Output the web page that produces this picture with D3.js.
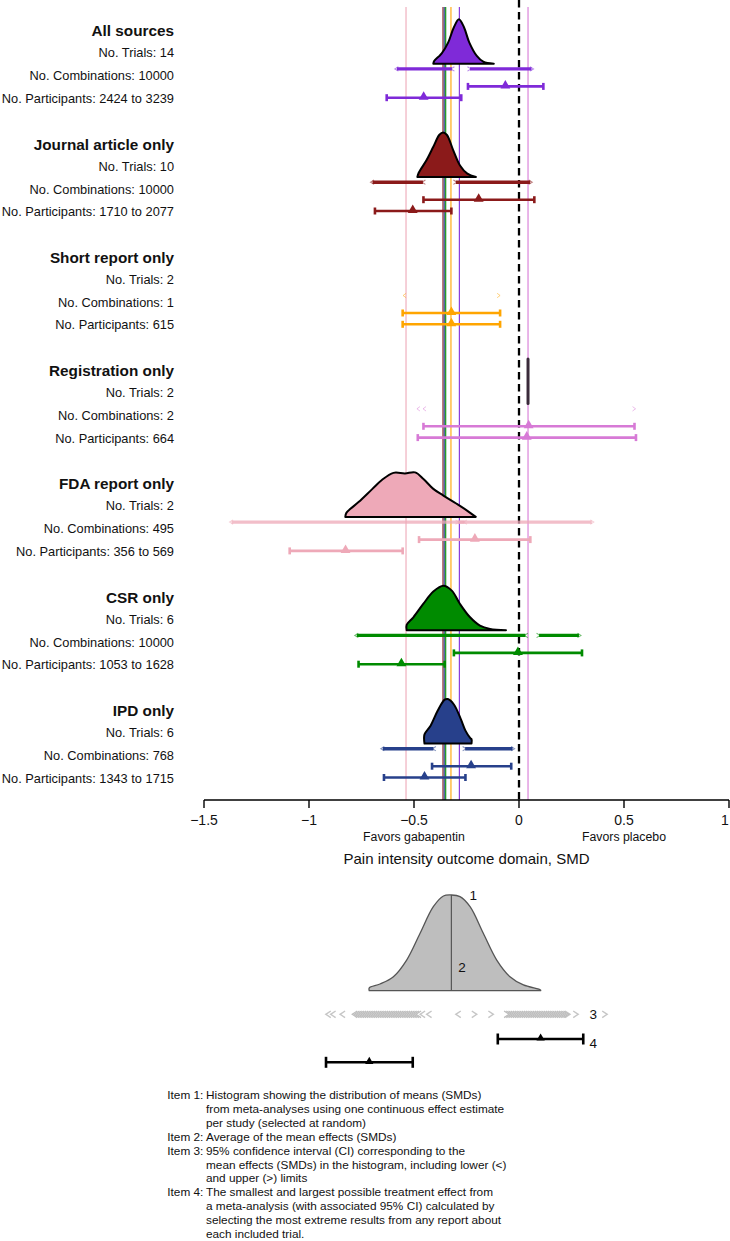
<!DOCTYPE html>
<html>
<head>
<meta charset="utf-8">
<script src="https://cdn.jsdelivr.net/npm/d3@7"></script>
<style>
  html, body { margin: 0; padding: 0; background: #ffffff; }
  svg { display: block; }
  text { font-family: "Liberation Sans", Arial, Helvetica, sans-serif; fill: #111; }
</style>
</head>
<body>
<svg id="chart" width="730" height="1241"></svg>
<script>
// ---------------- DATA ----------------
const groups = ["All sources", "Journal article only", "Short report only", "Registration only",
                "FDA report only", "CSR only", "IPD only"];
const trials = ["14", "10", "2", "2", "2", "6", "6"];
const combinations = ["10000", "10000", "1", "2", "495", "10000", "768"];
const participants = ["2424 to 3239", "1710 to 2077", "615", "664", "356 to 569", "1053 to 1628", "1343 to 1715"];
const colors = ["#7F2AD8", "#8B1A1A", "#FFA500", "#D77AD6", "#EEA9B8", "#008B00", "#27408B"];
// average of the mean effects (vertical reference lines)
const meanLines = [-0.284, -0.362, -0.324, 0.043, -0.538, -0.349, -0.356];
// density of pooled SMDs: [SMD, relative height]
const densities = [
  [[-0.408,0],[-0.404,0.06],[-0.385,0.15],[-0.368,0.23],[-0.337,0.48],[-0.31,0.82],[-0.286,1],[-0.262,0.82],[-0.237,0.48],[-0.201,0.175],[-0.17,0.045],[-0.12,0]],
  [[-0.484,0],[-0.478,0.09],[-0.44,0.38],[-0.408,0.68],[-0.379,0.95],[-0.362,1],[-0.344,0.95],[-0.313,0.6],[-0.281,0.26],[-0.246,0.077],[-0.205,0]],
  null,
  [[0.043,0],[0.043,1]],
  [[-0.827,0],[-0.822,0.09],[-0.764,0.333],[-0.698,0.63],[-0.653,0.83],[-0.598,0.99],[-0.543,0.978],[-0.495,1],[-0.455,0.853],[-0.408,0.63],[-0.36,0.48],[-0.297,0.296],[-0.249,0.148],[-0.206,0]],
  [[-0.535,0],[-0.535,0.12],[-0.503,0.29],[-0.456,0.59],[-0.408,0.87],[-0.36,1],[-0.32,0.89],[-0.281,0.59],[-0.233,0.29],[-0.186,0.104],[-0.138,0.03],[-0.062,0]],
  [[-0.45,0],[-0.45,0.204],[-0.421,0.4],[-0.388,0.73],[-0.354,0.985],[-0.339,1],[-0.31,0.876],[-0.277,0.547],[-0.255,0.29],[-0.232,0.12],[-0.226,0.095],[-0.226,0]]
];
// range of lower (<) and upper (>) 95% CI limits
const ciLower = [[-0.591,-0.31],[-0.707,-0.448],[-0.552,-0.552],[-0.486,-0.457],[-1.378,-0.25],[-0.782,0.04],[-0.658,-0.398]];
const ciUpper = [[-0.243,0.069],[-0.31,0.063],[-0.09,-0.09],[0.555,0.555],[-0.3,0.356],[0.086,0.295],[-0.266,-0.021]];
// extreme meta-analyses: [lower CI, estimate, upper CI]
const extremeHigh = [[-0.243,-0.065,0.116],[-0.455,-0.192,0.073],[-0.554,-0.322,-0.09],[-0.455,0.046,0.55],[-0.476,-0.21,0.054],[-0.31,-0.005,0.3],[-0.414,-0.228,-0.037]];
const extremeLow  = [[-0.63,-0.454,-0.275],[-0.686,-0.506,-0.322],[-0.554,-0.322,-0.09],[-0.482,0.037,0.557],[-1.092,-0.826,-0.554],[-0.764,-0.56,-0.354],[-0.643,-0.45,-0.255]];

const tickValues = [-1.5, -1, -0.5, 0, 0.5, 1];
const tickLabels = ["\u22121.5", "\u22121", "\u22120.5", "0", "0.5", "1"];
const favorLabels = [["Favors gabapentin", -0.5], ["Favors placebo", 0.5]];
const axisTitle = "Pain intensity outcome domain, SMD";

// legend (key) example values
const legendDensity = [[-0.713,0],[-0.713,0.03],[-0.662,0.07],[-0.598,0.146],[-0.535,0.32],[-0.471,0.6],[-0.408,0.878],[-0.36,0.99],[-0.322,1],[-0.281,0.983],[-0.233,0.878],[-0.17,0.6],[-0.106,0.32],[-0.043,0.146],[0.021,0.06],[0.103,0.007],[0.103,0]];
const legendMean = -0.322;
const legendLowerGlyphs = [-0.92, -0.897, -0.852, -0.471, -0.44, -0.301];
const legendUpperGlyphs = [-0.201, -0.122, 0.243, 0.282, 0.42];
const legendLowerCluster = [-0.794, -0.49];
const legendUpperCluster = [-0.071, 0.219];
const legendBars = [[-0.101, 0.103, 0.306], [-0.919, -0.713, -0.506]];
const legendNumbers = ["1", "2", "3", "4"];
const legendItems = [
  ["Item 1:", "Histogram showing the distribution of means (SMDs)"],
  ["", "from meta-analyses using one continuous effect estimate"],
  ["", "per study (selected at random)"],
  ["Item 2:", "Average of the mean effects (SMDs)"],
  ["Item 3:", "95% confidence interval (CI) corresponding to the"],
  ["", "mean effects (SMDs) in the histogram, including lower (<)"],
  ["", "and upper (>) limits"],
  ["Item 4:", "The smallest and largest possible treatment effect from"],
  ["", "a meta-analysis (with associated 95% CI) calculated by"],
  ["", "selecting the most extreme results from any report about"],
  ["", "each included trial."]
];

// ---------------- LAYOUT ----------------
const svg = d3.select("#chart");
svg.append("rect").attr("width", 730).attr("height", 1241).attr("fill", "#fff");

const x = d3.scaleLinear().domain([-1.5, 1]).range([204, 729]);
const groupY = d3.scaleLinear().domain([0, 1]).range([30.7, 144.0]);   // group title position
const labelX = 174;
const plotTop = 7, axisY = 800;
const densH = 44.5;

// vertical reference lines (averages)
const refG = svg.append("g");
meanLines.forEach((m, i) => {
  refG.append("line")
    .attr("x1", x(m)).attr("x2", x(m))
    .attr("y1", plotTop).attr("y2", axisY)
    .attr("stroke", colors[i]).attr("stroke-width", 1.1);
});
// null line
svg.append("line")
  .attr("x1", x(0)).attr("x2", x(0)).attr("y1", plotTop - 7).attr("y2", axisY)
  .attr("stroke", "#000").attr("stroke-width", 2.3).attr("stroke-dasharray", "7.5,4.5");

function chevron(g, px, y, dir, w, h, color, sw, op) {
  const d = dir === "<"
    ? `M${px + w},${y - h}L${px},${y}L${px + w},${y + h}`
    : `M${px - w},${y - h}L${px},${y}L${px - w},${y + h}`;
  g.append("path").attr("d", d).attr("fill", "none")
    .attr("stroke", color).attr("stroke-width", sw).attr("opacity", op);
}

function ciRange(g, range, y, dir, color, bandOp) {
  const xa = x(range[0]), xb = x(range[1]);
  if (xb - xa > 8) {
    g.append("line").attr("x1", xa + 2).attr("x2", xb - 2).attr("y1", y).attr("y2", y)
      .attr("stroke", color).attr("stroke-width", 3.4).attr("opacity", bandOp);
    chevron(g, dir === "<" ? xa : xb, y, dir, 3.5, 2.2, color, 1.1, 0.55);
    chevron(g, dir === "<" ? xb - 3 : xa + 3, y, dir, 3.5, 2.2, color, 1.1, 0.55);
  } else {
    chevron(g, xa, y, dir, 3, 2.2, color, 1, 0.5);
    if (xb - xa > 1) chevron(g, xb, y, dir, 3, 2.2, color, 1, 0.5);
  }
}

function errorBar(g, vals, y, color, sw, capH, triSize) {
  g.append("line").attr("x1", x(vals[0])).attr("x2", x(vals[2])).attr("y1", y).attr("y2", y)
    .attr("stroke", color).attr("stroke-width", sw);
  [vals[0], vals[2]].forEach(v => {
    g.append("line").attr("x1", x(v)).attr("x2", x(v)).attr("y1", y - capH / 2).attr("y2", y + capH / 2)
      .attr("stroke", color).attr("stroke-width", sw);
  });
  g.append("path").attr("d", d3.symbol().type(d3.symbolTriangle).size(triSize)())
    .attr("transform", `translate(${x(vals[1])},${y - 0.8})`).attr("fill", color);
}

groups.forEach((name, i) => {
  const t = groupY(i);
  const g = svg.append("g");
  // labels
  g.append("text").attr("x", labelX).attr("y", t).attr("text-anchor", "end")
    .attr("dominant-baseline", "central").attr("font-weight", "bold").attr("font-size", 15.3)
    .text(name);
  [["No. Trials: " + trials[i], 22], ["No. Combinations: " + combinations[i], 45], ["No. Participants: " + participants[i], 67.5]]
    .forEach(([s, dy]) => {
      g.append("text").attr("x", labelX).attr("y", t + dy).attr("text-anchor", "end")
        .attr("dominant-baseline", "central").attr("font-size", 12.8).attr("fill", "#222").text(s);
    });
  // density
  const base = t + 33;
  const dens = densities[i];
  if (dens) {
    const xs = dens.map(d => d[0]);
    if (d3.max(xs) - d3.min(xs) < 1e-6) {
      g.append("line").attr("x1", x(xs[0])).attr("x2", x(xs[0]))
        .attr("y1", base).attr("y2", base - densH)
        .attr("stroke", "#3a2a3a").attr("stroke-width", 3).attr("stroke-linecap", "round");
    } else {
      const area = d3.area().x(d => x(d[0])).y0(base).y1(d => base - d[1] * densH)
        .curve(d3.curveCatmullRom.alpha(0.5));
      g.append("path").attr("d", area(dens)).attr("fill", colors[i])
        .attr("stroke", "#000").attr("stroke-width", 2).attr("stroke-linejoin", "round");
    }
  }
  // CI limits row
  const ciY = t + 38.2;
  const bandOp = i === 4 ? 0.75 : 1;
  ciRange(g, ciLower[i], ciY, "<", colors[i], bandOp);
  ciRange(g, ciUpper[i], ciY, ">", colors[i], bandOp);
  // extreme meta-analyses
  errorBar(g, extremeHigh[i], t + 55.7, colors[i], 2.6, 7, 42);
  errorBar(g, extremeLow[i], t + 67, colors[i], 2.6, 7, 42);
});

// axis
const axisG = svg.append("g");
axisG.append("line").attr("x1", x(-1.5)).attr("x2", x(1)).attr("y1", axisY).attr("y2", axisY)
  .attr("stroke", "#000").attr("stroke-width", 1.4);
tickValues.forEach((v, k) => {
  axisG.append("line").attr("x1", x(v)).attr("x2", x(v)).attr("y1", axisY).attr("y2", axisY + 8)
    .attr("stroke", "#000").attr("stroke-width", 1.4);
  axisG.append("text").attr("x", Math.min(x(v), 725)).attr("y", axisY + 19.5).attr("text-anchor", "middle")
    .attr("dominant-baseline", "central").attr("font-size", 14).text(tickLabels[k]);
});
favorLabels.forEach(([s, v]) => {
  axisG.append("text").attr("x", x(v)).attr("y", 837).attr("text-anchor", "middle")
    .attr("dominant-baseline", "central").attr("font-size", 12.3).attr("fill", "#222").text(s);
});
axisG.append("text").attr("x", x(-0.25)).attr("y", 858.5).attr("text-anchor", "middle")
  .attr("dominant-baseline", "central").attr("font-size", 15).text(axisTitle);

// ---------------- KEY ----------------
const key = svg.append("g");
const kBase = 990.7, kH = 95.7;
key.append("path")
  .attr("d", d3.area().x(d => x(d[0])).y0(kBase).y1(d => kBase - d[1] * kH).curve(d3.curveCatmullRom.alpha(0.5))(legendDensity))
  .attr("fill", "#BEBEBE").attr("stroke", "#555").attr("stroke-width", 1.3);
key.append("line").attr("x1", x(legendMean)).attr("x2", x(legendMean))
  .attr("y1", kBase).attr("y2", kBase - kH).attr("stroke", "#555").attr("stroke-width", 1.2);
const kCiY = 1014.3;
const glyphCol = "#c6c6c6";
legendLowerGlyphs.forEach(v => chevron(key, x(v), kCiY, "<", 5, 3.3, glyphCol, 1.4, 1));
legendUpperGlyphs.forEach(v => chevron(key, x(v), kCiY, ">", 5, 3.3, glyphCol, 1.4, 1));
d3.range(x(legendLowerCluster[0]), x(legendLowerCluster[1]), 2.2)
  .forEach(px => chevron(key, px, kCiY, "<", 5, 3.3, "#bdbdbd", 1.3, 1));
d3.range(x(legendUpperCluster[0]), x(legendUpperCluster[1]), 2.2)
  .forEach(px => chevron(key, px + 5, kCiY, ">", 5, 3.3, "#bdbdbd", 1.3, 1));
errorBar(key, legendBars[0], 1039, "#000", 2.6, 11, 30);
errorBar(key, legendBars[1], 1062.3, "#000", 2.6, 11, 30);
const numPos = [[473.3, 895], [462, 967.3], [593.3, 1014.3], [593.3, 1043.3]];
legendNumbers.forEach((n, k) => {
  key.append("text").attr("x", numPos[k][0]).attr("y", numPos[k][1]).attr("text-anchor", "middle")
    .attr("dominant-baseline", "central").attr("font-size", 13.5).text(n);
});

// key text
const textG = svg.append("g");
legendItems.forEach(([lab, s], k) => {
  const y = 1095 + k * 13.9;
  if (lab) textG.append("text").attr("x", 167.3).attr("y", y).attr("dominant-baseline", "central")
    .attr("font-size", 11.8).text(lab);
  textG.append("text").attr("x", 206).attr("y", y).attr("dominant-baseline", "central")
    .attr("font-size", 11.8).text(s);
});
</script>
</body>
</html>
